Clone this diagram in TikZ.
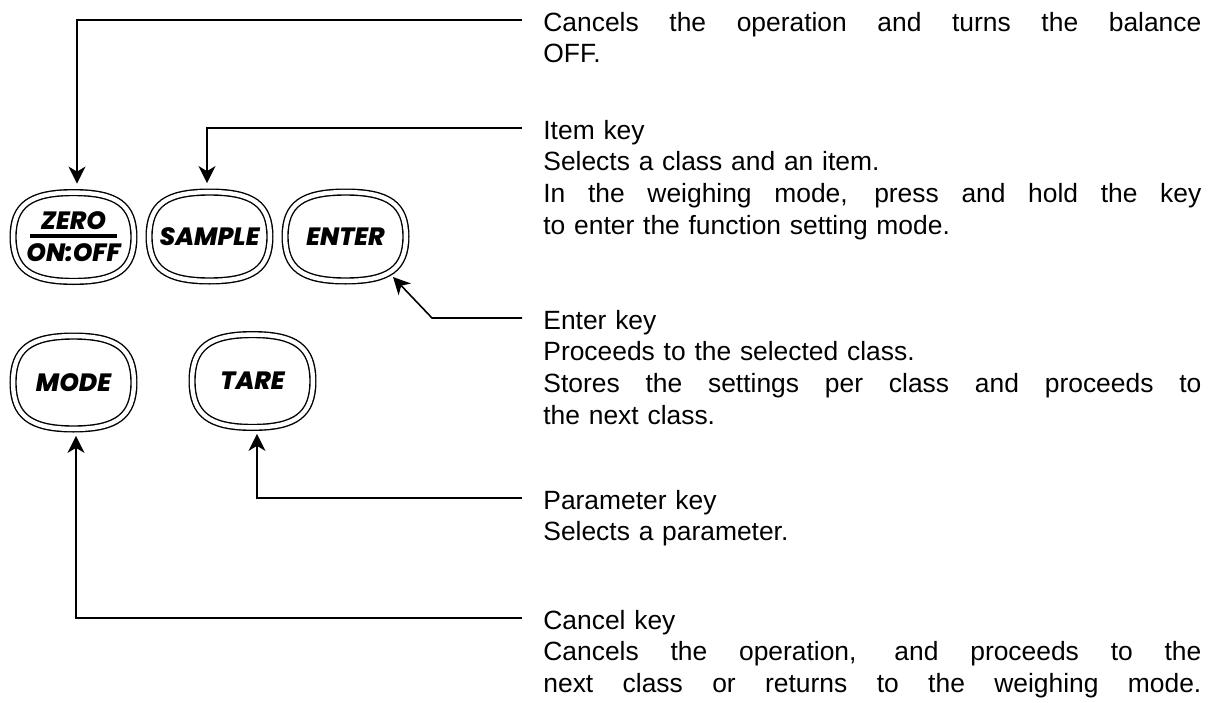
\documentclass[tikz,border=0pt]{standalone}
\usepackage{fontspec}
\setmainfont{Liberation Sans}
\newfontfamily\fonttasto{Poppins}[BoldItalicFont={* ExtraBold Italic}]
\usetikzlibrary{arrows.meta, calc}

% riga giustificata a tutta larghezza del blocco di testo
% (align=left fissa \spaceskip senza allungamento: lo si azzera qui)
\newcommand{\larghezzatesto}{329pt}
\newcommand{\riga}[1]{\makebox[\larghezzatesto][s]{\spaceskip=0pt\xspaceskip=0pt #1}}

\begin{document}
\begin{tikzpicture}[
  x=0.5pt, y=-0.5pt,
  tasto/.style={inner sep=0pt, minimum width=60pt, minimum height=44pt, align=center,
                font=\fonttasto\bfseries\itshape\fontsize{12.5}{15.5}\selectfont},
  contorno/.style={draw=black, double=white, double distance=2.2pt, line width=0.7pt},
  descrizione/.style={anchor=base west, inner sep=0pt, text width=\larghezzatesto, align=left,
                      font=\fontsize{13.2}{15.85}\selectfont},
  collegamento/.style={draw=black, line width=0.8pt,
                       -{Stealth[length=8.5pt, width=8.5pt, inset=2.5pt]}}
]
\useasboundingbox (0,0) rectangle (1216,702);

% ---- tasti ---------------------------------------------------------
\node[tasto] (zero)   at (73.5,237)    {ZERO\\[-11.4pt]\rule{43pt}{1.8pt}\\[-3.6pt]ON:OFF};
\node[tasto] (sample) at (209.5,236.5) {SAMPLE};
\node[tasto] (enter)  at (345.5,236.5) {ENTER};
\node[tasto, minimum height=46pt] (mode) at (73.5,382.5) {MODE};
\node[tasto, minimum height=46pt] (tare) at (252.5,381)  {TARE};

% contorno doppio e bombato di ogni tasto
\foreach \t in {zero,sample,enter,mode,tare}{
  \draw[contorno] (\t.north)
    .. controls ($(\t.north)!0.72!(\t.north east)$) and ($(\t.east)!0.72!(\t.north east)$) .. (\t.east)
    .. controls ($(\t.east)!0.72!(\t.south east)$) and ($(\t.south)!0.72!(\t.south east)$) .. (\t.south)
    .. controls ($(\t.south)!0.72!(\t.south west)$) and ($(\t.west)!0.72!(\t.south west)$) .. (\t.west)
    .. controls ($(\t.west)!0.72!(\t.north west)$) and ($(\t.north)!0.72!(\t.north west)$) .. (\t.north)
    -- cycle;
}

% ---- descrizioni ---------------------------------------------------
\node[descrizione] (d1) at (543,31)  {\riga{Cancels the operation and turns the balance}\\OFF.};
\node[descrizione] (d2) at (543,139) {Item key\\Selects a class and an item.\\
  \riga{In the weighing mode, press and hold the key}\\to enter the function setting mode.};
\node[descrizione] (d3) at (543,329) {Enter key\\Proceeds to the selected class.\\
  \riga{Stores the settings per class and proceeds to}\\the next class.};
\node[descrizione] (d4) at (543,509) {Parameter key\\Selects a parameter.};
\node[descrizione] (d5) at (543,629) {Cancel key\\\riga{Cancels the operation, and proceeds to the}\\
  \riga{next class or returns to the weighing mode.}};

% ---- collegamenti --------------------------------------------------
\draw[collegamento] ([shift={(-21,-11)}]d1.base west) -| ([shift={(1.75pt,4.5pt)}]zero.north);
\draw[collegamento] ([shift={(-21,-11)}]d2.base west) -| ([shift={(-1.25pt,4.5pt)}]sample.north);
\draw[collegamento] ([shift={(-21,-11)}]d3.base west) -- ++(-90,0)
                    -- ([shift={(23.75pt,-20.25pt)}]enter.center);
\draw[collegamento] ([shift={(-21,-11)}]d4.base west) -| ([shift={(2.25pt,-3.25pt)}]tare.south);
\draw[collegamento] ([shift={(-21,-11)}]d5.base west) -| ([shift={(1.25pt,-3.5pt)}]mode.south);

\end{tikzpicture}
\end{document}
